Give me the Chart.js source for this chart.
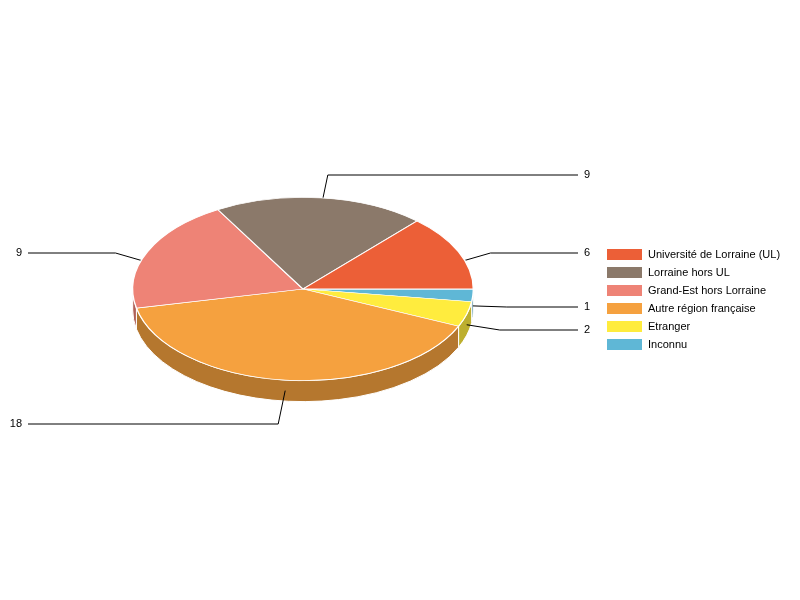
<!DOCTYPE html>
<html lang="en">
<head>
    <meta charset="UTF-8">
    <title>Pie 3D</title>
    <script src="https://cdn.jsdelivr.net/npm/chart.js"></script>
    <style>
        html, body { margin: 0; padding: 0; background: #fff; }
        canvas { display: block; }
    </style>
</head>
<body>
    <canvas id="pie" width="800" height="600"></canvas>
    <script>
        // Data in legend order (the reference runs counter-clockwise from east)
        const categories = ['Université de Lorraine (UL)', 'Lorraine hors UL', 'Grand-Est hors Lorraine', 'Autre région française', 'Etranger', 'Inconnu'];
        const values = [6, 9, 9, 18, 2, 1];
        const topColors = ['#ec5f37', '#8b796a', '#ee8376', '#f5a13f', '#ffec3e', '#5fb7d6'];
        const sideColors = ['#af462a', '#67594e', '#b06157', '#b5772e', '#bdaf2e', '#46879e'];

        const squash = 0.538;  // vertical scale of the tilted pie
        const depth = 21;      // height of the side wall
        const font = '11px "Liberation Sans", Arial, sans-serif';

        // Chart.js only goes clockwise, so the arrays are handed over reversed
        const rev = arr => arr.slice().reverse();

        const pie3d = {
            id: 'pie3d',
            beforeDatasetsDraw(chart) {
                const ctx = chart.ctx;
                const arcs = chart.getDatasetMeta(0).data;
                const cx = arcs[0].x, cy = arcs[0].y, r = arcs[0].outerRadius;
                const ry = r * squash;

                // side wall, only the front half of the pie shows it
                ctx.save();
                ctx.strokeStyle = '#fff';
                ctx.lineWidth = 1;
                arcs.forEach((arc, i) => {
                    const a = Math.max(arc.startAngle, 0);
                    const b = Math.min(arc.endAngle, Math.PI);
                    if (b <= a) return;
                    ctx.beginPath();
                    ctx.ellipse(cx, cy, r, ry, 0, a, b);
                    ctx.ellipse(cx, cy + depth, r, ry, 0, b, a, true);
                    ctx.closePath();
                    ctx.fillStyle = rev(sideColors)[i];
                    ctx.fill();
                    ctx.stroke();
                });

                // leader lines start inside the wall, the top face covers what is behind it
                ctx.strokeStyle = '#000';
                ctx.fillStyle = '#000';
                ctx.font = font;
                ctx.textBaseline = 'middle';
                arcs.forEach((arc, i) => {
                    const mid = (arc.startAngle + arc.endAngle) / 2;
                    const c = Math.cos(mid), s = Math.sin(mid);
                    const x0 = cx + r * c;
                    const y0 = cy + ry * s + depth / 2;
                    const x1 = x0 + 34 * Math.sign(c) * Math.pow(Math.abs(c), 0.7);
                    const y1 = Math.round(y0 + 34 * Math.sign(s) * Math.pow(Math.abs(s), 1.5));
                    const right = c > 0;
                    ctx.beginPath();
                    ctx.moveTo(x0, y0);
                    ctx.lineTo(x1, y1);
                    ctx.lineTo(right ? 578 : 28, y1);
                    ctx.stroke();
                    ctx.textAlign = right ? 'left' : 'right';
                    ctx.fillText(rev(values)[i], right ? 584 : 22, y1);
                });
                ctx.restore();

                // top face: the library's own arcs, squashed around the centre
                ctx.save();
                ctx.translate(cx, cy);
                ctx.scale(1, squash);
                ctx.translate(-cx, -cy);
            },
            afterDatasetsDraw(chart) {
                const ctx = chart.ctx;
                ctx.restore();

                // legend
                ctx.save();
                ctx.font = font;
                ctx.textAlign = 'left';
                ctx.textBaseline = 'middle';
                categories.forEach((name, i) => {
                    const y = 254.5 + i * 18;
                    ctx.fillStyle = topColors[i];
                    ctx.fillRect(607, y - 5.5, 35, 11);
                    ctx.fillStyle = '#000';
                    ctx.fillText(name, 648, y);
                });
                ctx.restore();
            }
        };

        new Chart(document.getElementById('pie').getContext('2d'), {
            type: 'pie',
            data: {
                labels: rev(categories),
                datasets: [{
                    data: rev(values),
                    backgroundColor: rev(topColors),
                    borderColor: '#fff',
                    borderWidth: 1.4,
                    clip: false
                }]
            },
            options: {
                responsive: false,
                animation: false,
                rotation: 90,
                layout: { padding: { left: 132, right: 326, top: 118, bottom: 140 } },
                plugins: { legend: { display: false }, tooltip: { enabled: false } }
            },
            plugins: [pie3d]
        });
    </script>
</body>
</html>
